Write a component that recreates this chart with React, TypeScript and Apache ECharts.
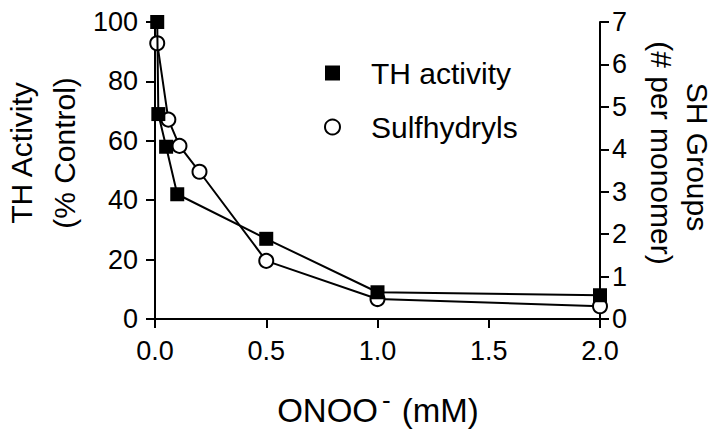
import React, { useEffect, useRef } from "react";
import * as echarts from "echarts";

const thX = [0.01, 0.015, 0.05, 0.1, 0.5, 1.0, 2.0];
const thY = [100, 69, 58, 42, 27, 9, 8];
const shX = [0.01, 0.06, 0.11, 0.2, 0.5, 1.0, 2.0];
const shY = [6.5, 4.7, 4.08, 3.47, 1.37, 0.47, 0.3];
const xTicks = [0, 0.5, 1.0, 1.5, 2.0];
const seriesNames = ["TH activity", "Sulfhydryls"];

const FONT = "'Liberation Sans', Arial, sans-serif";

export default function App() {
  const ref = useRef<HTMLDivElement>(null);
  useEffect(() => {
    if (!ref.current) return;
    const chart = echarts.init(ref.current, null, { renderer: "svg" });
    const axisLine = { show: true, lineStyle: { color: "#000", width: 2 } };
    const axisTick = { show: true, inside: false, length: 9, lineStyle: { color: "#000", width: 2 } };
    chart.setOption({
      animation: false,
      backgroundColor: "#fff",
      textStyle: { fontFamily: FONT },
      grid: { left: 155, right: 120, top: 22, bottom: 117 },
      xAxis: {
        type: "value",
        min: xTicks[0],
        max: xTicks[xTicks.length - 1],
        interval: 0.5,
        axisLine,
        axisTick,
        splitLine: { show: false },
        axisLabel: {
          color: "#000",
          fontSize: 27,
          fontFamily: FONT,
          margin: 18,
          formatter: (v: number) => v.toFixed(1),
        },
      },
      yAxis: [
        {
          type: "value",
          min: 0,
          max: 100,
          interval: 20,
          position: "left",
          axisLine,
          axisTick,
          splitLine: { show: false },
          axisLabel: { color: "#000", fontSize: 27, fontFamily: FONT, margin: 17 },
        },
        {
          type: "value",
          min: 0,
          max: 7,
          interval: 1,
          position: "right",
          axisLine,
          axisTick,
          splitLine: { show: false },
          axisLabel: { color: "#000", fontSize: 27, fontFamily: FONT, margin: 12 },
        },
      ],
      legend: {
        orient: "vertical",
        left: 319,
        top: 52,
        itemWidth: 15,
        itemHeight: 15,
        itemGap: 22,
        textStyle: { color: "#000", fontSize: 30, fontFamily: FONT, lineHeight: 32, padding: [0, 0, 0, 26] },
        data: [
          { name: seriesNames[0], icon: "rect" },
          { name: seriesNames[1], icon: "circle" },
        ],
      },
      series: [
        {
          name: seriesNames[0],
          type: "line",
          yAxisIndex: 0,
          data: thX.map((x, i) => [x, thY[i]]),
          symbol: "rect",
          symbolSize: 14,
          itemStyle: { color: "#000" },
          lineStyle: { color: "#000", width: 2 },
          z: 3,
        },
        {
          name: seriesNames[1],
          type: "line",
          yAxisIndex: 1,
          data: shX.map((x, i) => [x, shY[i]]),
          symbol: "circle",
          symbolSize: 14,
          showAllSymbol: true,
          itemStyle: { color: "#fff", borderColor: "#000", borderWidth: 2 },
          lineStyle: { color: "#000", width: 2 },
          z: 2,
        },
      ],
      graphic: [
        {
          type: "text",
          x: 21,
          y: 153,
          rotation: Math.PI / 2,
          style: { text: "TH Activity", fontSize: 30, fontFamily: FONT, fill: "#000", align: "center", verticalAlign: "middle" },
        },
        {
          type: "text",
          x: 64,
          y: 153,
          rotation: Math.PI / 2,
          style: { text: "(% Control)", fontSize: 30, fontFamily: FONT, fill: "#000", align: "center", verticalAlign: "middle" },
        },
        {
          type: "text",
          x: 697,
          y: 157,
          rotation: -Math.PI / 2,
          style: { text: "SH Groups", fontSize: 30, fontFamily: FONT, fill: "#000", align: "center", verticalAlign: "middle" },
        },
        {
          type: "text",
          x: 661,
          y: 153,
          rotation: -Math.PI / 2,
          style: { text: "(# per monomer)", fontSize: 30, fontFamily: FONT, fill: "#000", align: "center", verticalAlign: "middle" },
        },
        {
          type: "text",
          x: 378,
          y: 410,
          style: {
            text: "{a|ONOO}{s|-}{a| (mM)}",
            align: "center",
            verticalAlign: "middle",
            rich: {
              a: { fontSize: 33, fontFamily: FONT, fill: "#000", lineHeight: 46 },
              s: { fontSize: 26, fontFamily: FONT, fill: "#000", lineHeight: 6, verticalAlign: "top", padding: [0, 2, 0, 4] },
            },
          },
        },
      ],
    });
    return () => chart.dispose();
  }, []);
  return <div ref={ref} style={{ position: "fixed", left: 0, top: 0, width: 720, height: 436 }} />;
}
